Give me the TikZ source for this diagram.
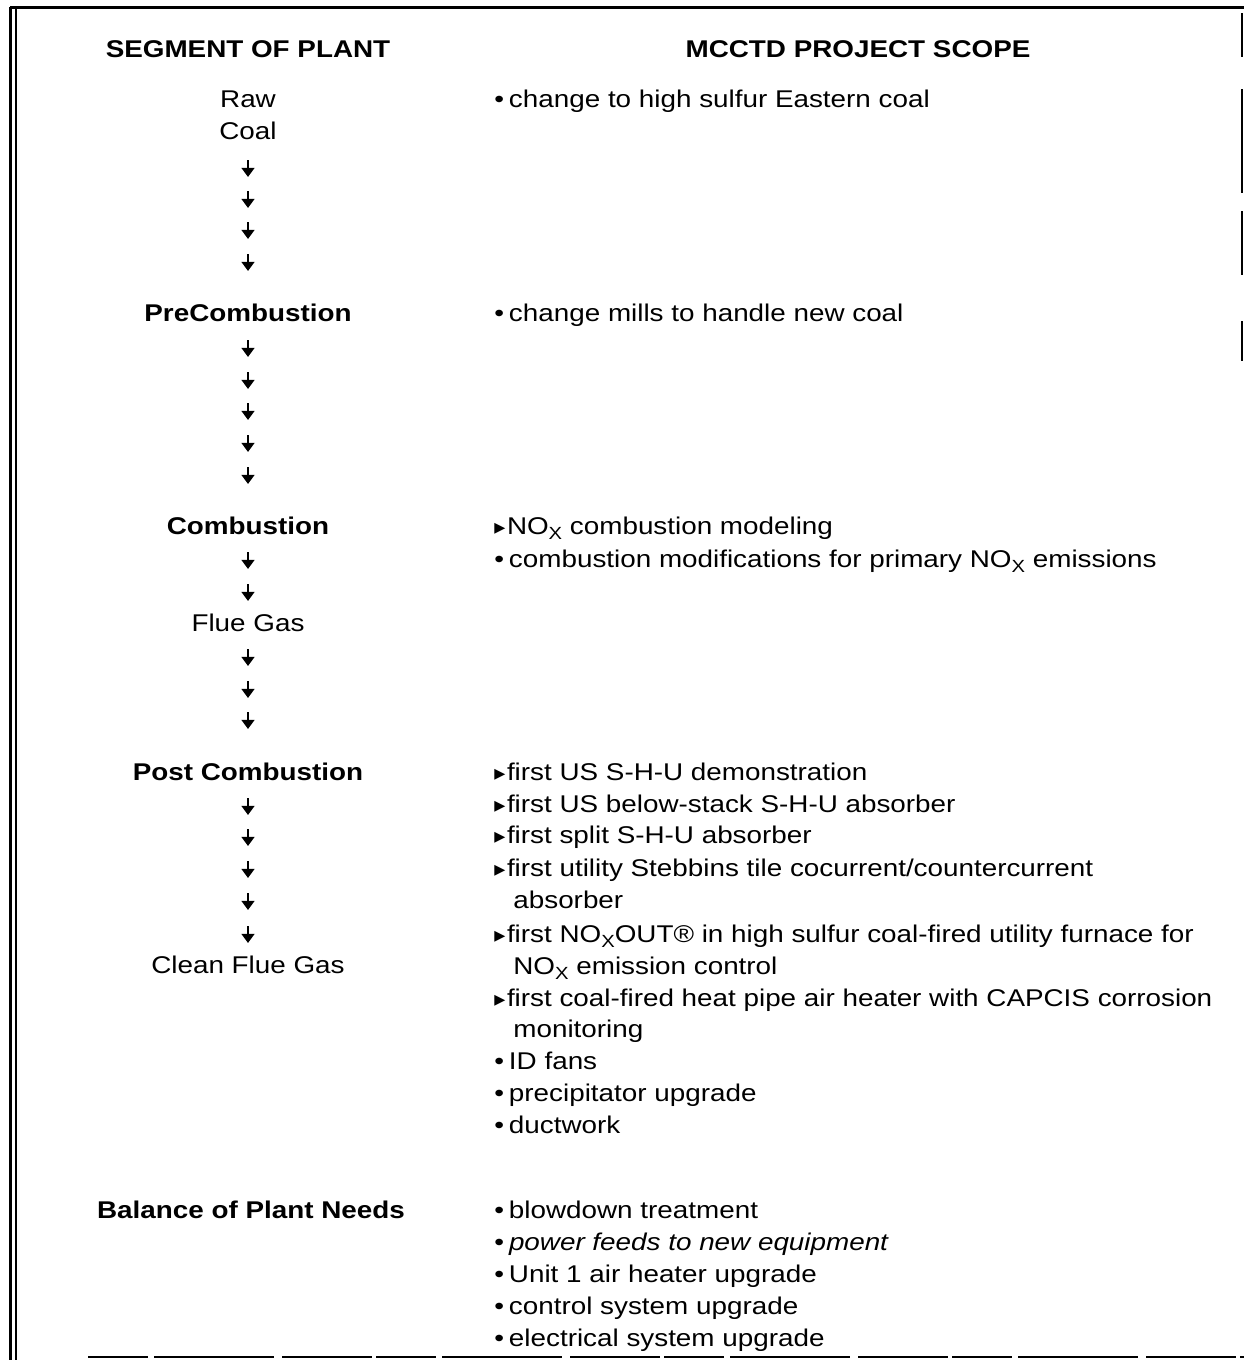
\documentclass[tikz,border=0pt]{standalone}
\usepackage{fontspec}
\setmainfont[FakeStretch=1.15]{Liberation Sans}
\newfontfamily\symfont{DejaVu Sans}
\usetikzlibrary{arrows.meta, positioning}
\tikzset{
	segtext/.style={anchor=base, inner sep=0pt, font=\fontsize{12.1}{16}\selectfont},
	segbold/.style={anchor=base, inner sep=0pt, font=\fontsize{12.1}{16}\selectfont\bfseries},
	scopetext/.style={anchor=base west, inner sep=0pt, font=\fontsize{12.1}{16}\selectfont},
	flowarr/.style={-{Triangle[length=4.6pt, width=6.4pt]}, line width=1.3pt},
	framethick/.style={line width=1.5pt},
	framethin/.style={line width=0.9pt},
}
\newcommand{\bul}{\makebox[7.3pt][l]{\textbullet}}
\newcommand{\tri}{\makebox[6.3pt][l]{\symfont\fontsize{11}{11}\selectfont ▸}}
\newcommand{\nox}{NO\raisebox{-2.6pt}{\fontsize{8.8}{8.8}\selectfont X}}

\begin{document}
\begin{tikzpicture}[x=0.5pt, y=-0.5pt]
	\useasboundingbox (0,0) rectangle (1244,1360);
	% frame
	\draw[framethick] (10,7) -- (1244,7);
	\draw[framethick] (10,7) -- (10,1360);
	\draw[framethin] (16,9) -- (16,1360);
	\draw[framethin, dash pattern=on 30pt off 3pt on 60pt off 4pt on 45pt off 2pt] (88,1357) -- (1244,1357);
	\draw[line width=0.6pt, dash pattern=on 22pt off 16pt on 52pt off 9pt on 32pt off 23pt on 20pt off 400pt] (1242,13) -- (1242,700);
	% headers
	\node[segbold] (seghead) at (248,57) {SEGMENT OF PLANT};
	\node[segbold] (scopehead) at (858,57) {MCCTD PROJECT SCOPE};
	% segment of plant
	\node[segtext] (raw) at (248,107) {Raw};
	\node[segtext] (coal) at (248,139) {Coal};
	\node[segbold] (precomb) at (248,321) {PreCombustion};
	\node[segbold] (comb) at (248,534) {Combustion};
	\node[segtext] (flue) at (248,631) {Flue Gas};
	\node[segbold] (postcomb) at (248,780) {Post Combustion};
	\node[segtext] (clean) at (248,973) {Clean Flue Gas};
	\node[segbold] (bop) at (251,1218) {Balance of Plant Needs};
	\foreach \y in {168,199,230,262,348,380,411,443,475,560,592,657,689,720,806,837,869,901,934}
		\draw[flowarr] (248,\y-8) -- (248,\y+9);
	% project scope
	\node[scopetext] (sc1) at (494,107) {\bul change to high sulfur Eastern coal};
	\node[scopetext] (sc2) at (494,321) {\bul change mills to handle new coal};
	\node[scopetext] (sc3) at (494,534) {\tri\nox{} combustion modeling};
	\node[scopetext] (sc4) at (494,567) {\bul combustion modifications for primary \nox{} emissions};
	\node[scopetext] (sc5) at (494,780) {\tri first US S-H-U demonstration};
	\node[scopetext] (sc6) at (494,812) {\tri first US below-stack S-H-U absorber};
	\node[scopetext] (sc7) at (494,843) {\tri first split S-H-U absorber};
	\node[scopetext] (sc8) at (494,876) {\tri first utility Stebbins tile cocurrent/countercurrent};
	\node[scopetext] (sc8b) at (513,908) {absorber};
	\node[scopetext] (sc9) at (494,942) {\tri first \nox OUT\textregistered{} in high sulfur coal-fired utility furnace for};
	\node[scopetext] (sc9b) at (513,974) {\nox{} emission control};
	\node[scopetext] (sc10) at (494,1006) {\tri first coal-fired heat pipe air heater with CAPCIS corrosion};
	\node[scopetext] (sc10b) at (513,1037) {monitoring};
	\node[scopetext] (sc11) at (494,1069) {\bul ID fans};
	\node[scopetext] (sc12) at (494,1101) {\bul precipitator upgrade};
	\node[scopetext] (sc13) at (494,1133) {\bul ductwork};
	\node[scopetext] (bp1) at (494,1218) {\bul blowdown treatment};
	\node[scopetext] (bp2) at (494,1250) {\bul\textit{power feeds to new equipment}};
	\node[scopetext] (bp3) at (494,1282) {\bul Unit 1 air heater upgrade};
	\node[scopetext] (bp4) at (494,1314) {\bul control system upgrade};
	\node[scopetext] (bp5) at (494,1346) {\bul electrical system upgrade};
\end{tikzpicture}
\end{document}
